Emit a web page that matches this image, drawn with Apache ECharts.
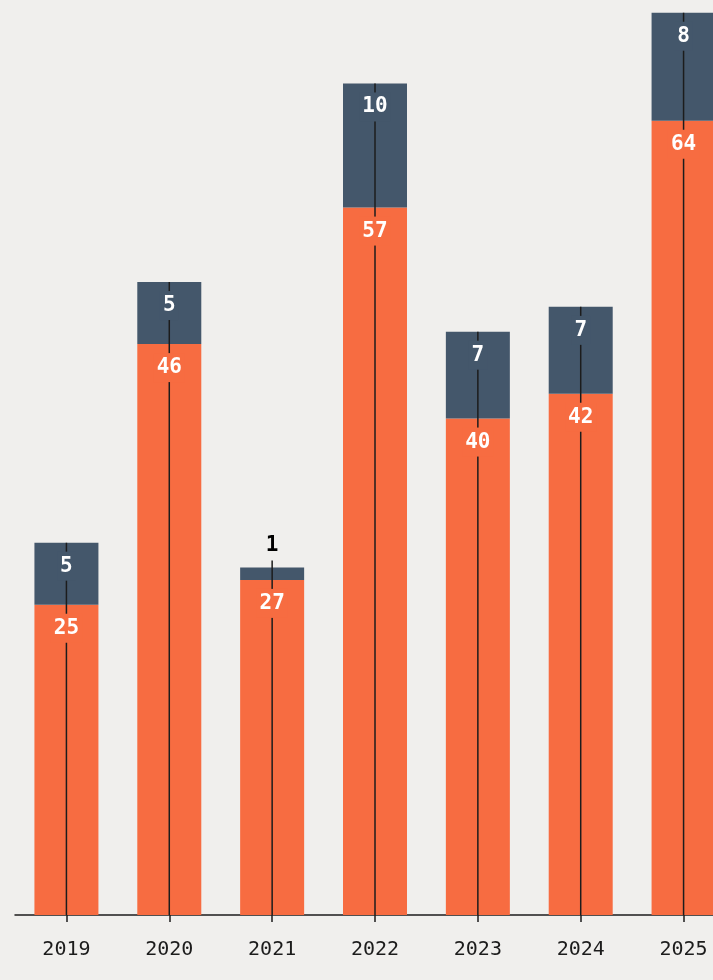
<!DOCTYPE html>
<html>
<head>
<meta charset="utf-8">
<script src="https://cdn.jsdelivr.net/npm/echarts@6/dist/echarts.min.js"></script>
<style>
html,body{margin:0;padding:0;background:#f0efed;}
#chart{width:713px;height:980px;}
</style>
</head>
<body>
<div id="chart"></div>
<script>
var categories = ['2019','2020','2021','2022','2023','2024','2025'];
var bottomValues = [25, 46, 27, 57, 40, 42, 64];
var topValues = [5, 5, 1, 10, 7, 7, 8.7];

var ORANGE = '#f76c41';
var SLATE = '#44576b';
var INK = '#1c1c1c';
var MONO = '"DejaVu Sans Mono", "Liberation Mono", monospace';

var chart = echarts.init(document.getElementById('chart'));

var customData = categories.map(function (c, i) {
  return [i, bottomValues[i], topValues[i]];
});

function fmt(v) { return String(Math.floor(v)); }

chart.setOption({
  backgroundColor: '#f0efed',
  animation: false,
  grid: { left: 15, width: 720, top: 9, height: 906, outerBoundsMode: 'none', containLabel: false },
  xAxis: {
    type: 'category',
    data: categories,
    axisLine: { show: true, lineStyle: { color: INK, width: 1.5 } },
    axisTick: { show: true, alignWithLabel: true, length: 7, lineStyle: { color: INK, width: 1.5 } },
    axisLabel: { color: INK, fontFamily: MONO, fontSize: 20, margin: 25 }
  },
  yAxis: {
    type: 'value', min: 0, max: 73, show: false,
    splitLine: { show: false }
  },
  series: [
    { type: 'bar', stack: 'a', data: bottomValues, barWidth: 64, itemStyle: { color: ORANGE }, z: 2 },
    { type: 'bar', stack: 'a', data: topValues, barWidth: 64, itemStyle: { color: SLATE }, z: 2 },
    {
      type: 'custom',
      z: 10,
      data: customData,
      encode: { x: 0, y: 1 },
      renderItem: function (params, api) {
        var i = api.value(0);
        var b = api.value(1);
        var t = api.value(2);
        var base = api.coord([i, 0]);
        var mid = api.coord([i, b]);
        var top = api.coord([i, b + t]);
        var x = base[0];
        var font = 'bold 21px ' + MONO;
        var children = [];
        var topSmall = (mid[1] - top[1]) < 30;
        var lineTop = topSmall ? top[1] - 7 : top[1];
        children.push({
          type: 'line',
          shape: { x1: x, y1: base[1], x2: x, y2: lineTop },
          style: { stroke: INK, lineWidth: 1.5 }
        });
        children.push({
          type: 'text',
          style: {
            text: fmt(b), x: x, y: mid[1] + 23.5,
            fill: '#ffffff', font: font,
            align: 'center', verticalAlign: 'middle',
            backgroundColor: ORANGE, padding: [4, 3]
          }
        });
        if (topSmall) {
          children.push({
            type: 'text',
            style: {
              text: fmt(t), x: x, y: top[1] - 22,
              fill: '#000000', font: font,
              align: 'center', verticalAlign: 'middle'
            }
          });
        } else {
          children.push({
            type: 'text',
            style: {
              text: fmt(t), x: x, y: top[1] + 23.5,
              fill: '#ffffff', font: font,
              align: 'center', verticalAlign: 'middle',
              backgroundColor: SLATE, padding: [4, 3]
            }
          });
        }
        return { type: 'group', children: children };
      }
    }
  ]
});
</script>
</body>
</html>
